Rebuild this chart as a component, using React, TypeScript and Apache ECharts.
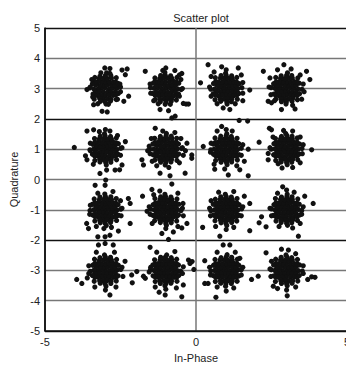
import React, { useEffect, useRef } from "react";
import * as echarts from "echarts";

// Tick layout
const xMin = -5, xMax = 5, xStep = 5;
const yMin = -5, yMax = 5, yStep = 1;

// Received symbols, one array per constellation point (I, Q)
const ptM3P3 = [
  [-3.01,3.02],[-2.87,2.99],[-3.14,3.01],[-2.75,3.02],[-3.25,2.98],[-2.62,3.01],[-3.38,2.99],
  [-3.06,3.11],[-2.94,3.12],[-3.19,3.1],[-2.8,3.11],[-3.32,3.12],[-2.68,3.1],
  [-3.07,2.89],[-2.93,2.88],[-3.2,2.9],[-2.81,2.89],[-3.33,2.88],[-2.67,2.9],
  [-3,3.23],[-2.87,3.22],[-3.13,3.23],[-2.74,3.22],[-3.26,3.23],[-2.65,3.21],[-3.35,3.22],
  [-3.01,2.77],[-2.87,2.78],[-3.14,2.77],[-2.74,2.78],[-3.26,2.77],[-2.66,2.79],[-3.35,2.78],
  [-3.06,3.34],[-2.94,3.33],[-3.2,3.34],[-2.8,3.35],
  [-3.07,2.66],[-2.93,2.66],[-3.19,2.67],[-2.81,2.65],
  [-3,3.43],[-3.01,2.57],
  [-2.58,3.17],[-2.82,3.43],[-3.18,3.41],[-3.43,3.16],[-3.41,2.82],[-3.16,2.58],[-2.83,2.59],[-2.57,2.84],
  [-2.5,3.05],[-2.64,3.36],[-2.96,3.52],[-3.35,3.37],[-3.52,3.02],[-3.37,2.65],[-2.98,2.49],[-2.64,2.64],
  [-2.45,3.61],[-2.28,3.65],[-2.34,3.46],[-2.23,2.75],[-2.39,2.58],[-3.11,2.25],[-2.94,2.23],[-3.39,2.47],[-3.61,2.97],
  [-3.15,3.52],[-2.85,3.5],[-3.45,3.3],[-3.5,3.05],[-2.52,3.15],[-2.5,2.9],[-3.42,2.72],[-2.6,2.65],[-3.25,2.5],[-2.9,2.48],
  [-3.02,3.68],[-2.85,3.66]
];
const ptM1P3 = [
  [-0.99,3.01],[-0.86,3.02],[-1.12,2.99],[-0.73,3.0],[-1.26,3.02],[-0.6,2.99],[-1.39,3.01],
  [-1.05,3.12],[-0.92,3.1],[-1.18,3.11],[-0.79,3.12],[-1.31,3.1],[-0.67,3.12],
  [-1.06,2.9],[-0.93,2.88],[-1.19,2.89],[-0.8,2.9],[-1.32,2.89],[-0.68,2.88],
  [-1.01,3.22],[-0.88,3.23],[-1.14,3.22],[-0.75,3.24],[-1.27,3.22],[-0.65,3.22],[-1.36,3.23],
  [-1,2.78],[-0.86,2.77],[-1.13,2.78],[-0.74,2.76],[-1.26,2.78],[-0.64,2.77],[-1.35,2.77],
  [-1.07,3.34],[-0.94,3.35],[-1.2,3.33],[-0.8,3.34],
  [-1.06,2.66],[-0.93,2.67],[-1.2,2.66],[-0.81,2.66],
  [-1.02,3.44],[-0.99,2.56],
  [-0.57,3.18],[-0.84,3.42],[-1.17,3.43],[-1.42,3.18],[-1.43,2.84],[-1.18,2.57],[-0.82,2.58],[-0.58,2.82],
  [-0.49,2.97],[-0.63,3.37],[-1.03,3.53],[-1.36,3.35],[-1.51,3.03],[-1.35,2.63],[-1.02,2.48],[-0.65,2.62],
  [-1.68,3.57],[-0.33,2.49],[-0.25,2.49],[-1.19,2.31],[-0.91,2.27],[-0.69,2.09],[-0.8,2.03],[-0.47,3.5],[-0.42,2.51],
  [-1.1,3.6],[-0.7,3.6],[-0.5,3.3],[-0.45,3.0],[-1.52,3.15],[-1.5,2.85],[-1.4,2.6],[-0.55,2.75],[-1.25,2.5],[-0.85,2.48],[-1.0,3.68],[-0.55,3.45]
];
const ptP1P3 = [
  [1.01,2.99],[1.14,3.01],[0.88,3.0],[1.27,2.98],[0.75,3.01],[1.39,3.0],[0.62,2.99],
  [0.95,3.11],[1.08,3.12],[0.82,3.1],[1.21,3.11],[0.69,3.12],[1.33,3.1],
  [0.94,2.89],[1.07,2.9],[0.81,2.88],[1.2,2.89],[0.68,2.9],[1.32,2.88],
  [1.0,3.23],[1.13,3.22],[0.87,3.22],[1.26,3.23],[0.74,3.22],[1.35,3.21],[0.65,3.23],
  [0.99,2.78],[1.13,2.77],[0.86,2.78],[1.26,2.77],[0.74,2.76],[1.35,2.78],[0.65,2.78],
  [0.94,3.34],[1.07,3.34],[0.81,3.35],[1.2,3.33],
  [0.93,2.66],[1.06,2.67],[0.8,2.66],[1.19,2.66],
  [1.0,3.44],[1.02,2.56],
  [1.43,3.16],[1.18,3.42],[0.83,3.43],[0.58,3.17],[0.57,2.83],[0.82,2.58],[1.17,2.57],[1.42,2.84],
  [1.52,3.03],[1.35,3.37],[0.98,3.51],[0.64,3.36],[0.49,2.98],[0.63,2.63],[1.03,2.49],[1.37,2.65],
  [0.4,3.79],[0.85,3.72],[1.4,3.68],[0.15,3.19],[1.78,2.95],[0.9,2.36],[1.12,2.31],[1.43,1.95],[1.71,1.93],
  [0.5,3.4],[0.45,3.05],[0.5,2.75],[1.55,3.2],[1.55,2.85],[1.5,3.45],[0.7,2.5],[1.3,2.5],[1.0,3.62],[0.6,3.55],[1.55,2.6]
];
const ptP3P3 = [
  [2.99,3.0],[3.12,3.02],[2.86,2.99],[3.25,3.01],[2.74,3.0],[3.38,2.99],[2.61,3.01],
  [3.05,3.11],[2.93,3.12],[3.19,3.1],[2.8,3.11],[3.32,3.12],[2.68,3.1],
  [3.06,2.89],[2.94,2.88],[3.19,2.9],[2.81,2.89],[3.32,2.88],[2.68,2.9],
  [3.01,3.22],[2.87,3.23],[3.14,3.22],[2.74,3.22],[3.26,3.23],[2.65,3.22],[3.35,3.21],
  [3.0,2.78],[2.87,2.77],[3.13,2.78],[2.74,2.77],[3.26,2.78],[2.65,2.77],[3.35,2.77],
  [3.07,3.34],[2.94,3.33],[3.19,3.35],[2.8,3.34],
  [3.06,2.66],[2.93,2.66],[3.2,2.67],[2.81,2.66],
  [3.0,3.44],[2.99,2.56],
  [3.42,3.18],[3.17,3.43],[2.82,3.42],[2.57,3.16],[2.58,2.82],[2.83,2.57],[3.18,2.58],[3.43,2.83],
  [3.51,2.98],[3.37,3.35],[3.03,3.52],[2.64,3.37],[2.49,3.03],[2.64,2.65],[2.98,2.49],[3.36,2.63],
  [2.23,3.57],[2.91,3.79],[3.66,3.57],[3.77,3.3],[2.39,2.58],[2.5,2.53],[2.83,2.31],[3.28,2.33],
  [2.45,3.35],[2.42,3.05],[2.48,2.8],[3.55,3.15],[3.58,2.9],[3.5,2.65],[3.2,2.45],[2.7,3.62],[3.15,3.65],[3.45,3.45],[2.6,2.6]
];
const ptM3P1 = [
  [-3.0,1.0],[-2.87,1.01],[-3.13,0.99],[-2.74,1.0],[-3.26,1.02],[-2.61,0.99],[-3.39,1.0],
  [-3.06,1.11],[-2.93,1.12],[-3.19,1.1],[-2.8,1.11],[-3.32,1.12],[-2.68,1.11],
  [-3.07,0.89],[-2.94,0.9],[-3.2,0.88],[-2.81,0.89],[-3.33,0.9],[-2.67,0.89],
  [-3.0,1.22],[-2.87,1.23],[-3.13,1.22],[-2.74,1.23],[-3.26,1.22],[-2.65,1.21],[-3.35,1.23],
  [-3.01,0.78],[-2.87,0.77],[-3.13,0.78],[-2.74,0.77],[-3.26,0.78],[-2.65,0.78],[-3.35,0.77],
  [-3.06,1.34],[-2.93,1.33],[-3.2,1.34],[-2.8,1.34],
  [-3.07,0.66],[-2.94,0.66],[-3.19,0.67],[-2.81,0.66],
  [-3.01,1.44],[-2.99,0.56],
  [-2.57,1.18],[-2.83,1.42],[-3.17,1.43],[-3.42,1.16],[-3.43,0.83],[-3.18,0.58],[-2.82,0.57],[-2.58,0.83],
  [-2.49,1.03],[-2.64,1.37],[-3.03,1.51],[-3.36,1.35],[-3.51,0.98],[-3.35,0.63],[-2.97,0.48],[-2.63,0.65],
  [-4.03,1.06],[-3.61,1.6],[-3.39,1.64],[-3.66,0.78],[-3.61,0.65],[-3.18,0.2],[-2.96,0.31],[-2.68,0.31],[-2.45,0.48],[-2.53,0.32],[-2.34,1.25],
  [-3.5,1.2],[-3.5,0.95],[-2.45,1.05],[-2.5,0.8],[-3.2,1.58],[-2.85,1.6],[-3.4,0.5],[-2.6,1.45],[-3.0,1.65]
];
const ptM1P1 = [
  [-1.01,1.0],[-0.88,0.99],[-1.14,1.01],[-0.75,1.0],[-1.27,0.99],[-0.62,1.01],[-1.4,1.0],
  [-1.05,1.11],[-0.92,1.12],[-1.18,1.11],[-0.79,1.1],[-1.31,1.12],[-0.67,1.11],
  [-1.06,0.89],[-0.93,0.88],[-1.19,0.9],[-0.8,0.89],[-1.32,0.88],[-0.68,0.9],
  [-1.01,1.23],[-0.87,1.22],[-1.14,1.23],[-0.75,1.22],[-1.27,1.22],[-0.65,1.23],[-1.36,1.22],
  [-1.0,0.77],[-0.87,0.78],[-1.13,0.77],[-0.74,0.78],[-1.26,0.77],[-0.65,0.77],[-1.35,0.78],
  [-1.07,1.34],[-0.94,1.34],[-1.2,1.33],[-0.8,1.35],
  [-1.06,0.66],[-0.93,0.67],[-1.2,0.66],[-0.81,0.66],
  [-0.99,1.44],[-1.0,0.56],
  [-0.58,1.17],[-0.82,1.43],[-1.18,1.42],[-1.43,1.17],[-1.42,0.82],[-1.17,0.57],[-0.83,0.58],[-0.57,0.84],
  [-0.48,1.02],[-0.64,1.36],[-0.98,1.52],[-1.37,1.36],[-1.52,1.0],[-1.36,0.64],[-1.02,0.48],[-0.63,0.63],
  [-1.79,0.65],[-1.74,0.48],[-1.35,1.69],[-0.14,0.81],[-0.14,0.7],[-0.36,0.21],[-0.86,0.12],[-1.19,0.21],[-1.48,1.35],[-0.3,1.2],
  [-1.55,1.1],[-1.52,0.85],[-0.45,1.05],[-0.42,0.8],[-1.45,0.6],[-0.55,0.55],[-0.7,1.55],[-1.1,1.6],[-0.9,0.4],[-1.3,0.45],[-0.5,1.35],[-1.6,0.95],[-0.35,0.95]
];
const ptP1P1 = [
  [0.99,1.0],[1.12,1.01],[0.86,0.99],[1.25,1.0],[0.73,1.01],[1.38,0.99],[0.6,1.0],
  [0.95,1.11],[1.08,1.12],[0.82,1.1],[1.21,1.11],[0.69,1.12],[1.33,1.1],
  [0.94,0.89],[1.07,0.9],[0.81,0.88],[1.2,0.89],[0.68,0.9],[1.32,0.89],
  [0.99,1.22],[1.13,1.23],[0.86,1.22],[1.26,1.22],[0.73,1.23],[1.35,1.22],[0.64,1.22],
  [1.0,0.78],[1.13,0.77],[0.87,0.78],[1.26,0.78],[0.74,0.77],[1.35,0.77],[0.65,0.78],
  [0.94,1.33],[1.07,1.34],[0.8,1.34],[1.2,1.34],
  [0.93,0.66],[1.07,0.66],[0.81,0.67],[1.19,0.66],
  [1.0,1.44],[1.01,0.56],
  [1.42,1.18],[1.17,1.42],[0.82,1.43],[0.57,1.17],[0.58,0.83],[0.83,0.57],[1.18,0.58],[1.43,0.82],
  [1.5,1.03],[1.36,1.36],[1.02,1.51],[0.63,1.37],[0.49,0.98],[0.65,0.63],[1.03,0.49],[1.37,0.64],
  [0.85,1.75],[0.24,1.09],[1.73,1.0],[0.62,0.34],[1.07,0.15],[1.73,0.12],[1.45,0.32],
  [0.5,1.2],[0.48,0.9],[1.55,1.15],[1.5,0.8],[0.7,1.6],[1.2,1.6],[0.6,0.5],[1.35,0.45],[1.0,1.65],[0.95,0.35],[1.6,0.6]
];
const ptP3P1 = [
  [3.0,1.01],[3.13,0.99],[2.87,1.0],[3.26,1.01],[2.74,0.99],[3.39,1.0],[2.61,1.01],
  [3.06,1.11],[2.93,1.1],[3.19,1.12],[2.8,1.11],[3.32,1.1],[2.68,1.12],
  [3.05,0.89],[2.92,0.9],[3.18,0.89],[2.79,0.88],[3.31,0.9],[2.67,0.89],
  [3.0,1.23],[2.87,1.22],[3.13,1.22],[2.74,1.23],[3.26,1.22],[2.65,1.22],[3.35,1.23],
  [2.99,0.78],[2.86,0.77],[3.13,0.78],[2.73,0.78],[3.26,0.77],[2.64,0.77],[3.35,0.78],
  [3.06,1.34],[2.93,1.33],[3.19,1.34],[2.8,1.34],
  [3.07,0.66],[2.94,0.67],[3.2,0.66],[2.81,0.66],
  [3.01,1.45],[3.0,0.56],
  [3.43,1.17],[3.18,1.43],[2.83,1.42],[2.58,1.18],[2.57,0.82],[2.82,0.58],[3.17,0.57],[3.42,0.84],
  [3.51,1.02],[3.35,1.37],[2.97,1.52],[2.63,1.35],[2.49,1.0],[2.64,0.63],[3.02,0.49],[3.37,0.65],
  [2.09,1.23],[3.83,0.98],[2.43,1.69],[2.5,1.64],[2.39,0.86],[2.39,0.65],[2.72,0.52],
  [3.55,1.15],[3.52,0.85],[2.45,1.05],[3.45,0.55],[3.2,0.4],[2.9,1.62],[3.2,1.6],[3.45,1.4],[2.85,0.38],[2.55,1.4]
];
const ptM3M1 = [
  [-3.0,-1.0],[-2.87,-0.99],[-3.13,-1.01],[-2.74,-1.0],[-3.26,-0.99],[-2.61,-1.01],[-3.39,-1.0],
  [-3.06,-0.89],[-2.93,-0.88],[-3.19,-0.9],[-2.8,-0.89],[-3.32,-0.88],[-2.68,-0.9],
  [-3.07,-1.11],[-2.94,-1.12],[-3.2,-1.1],[-2.81,-1.11],[-3.33,-1.12],[-2.67,-1.1],
  [-3.0,-0.78],[-2.87,-0.77],[-3.13,-0.78],[-2.74,-0.77],[-3.26,-0.78],[-2.65,-0.78],[-3.35,-0.77],
  [-3.01,-1.22],[-2.87,-1.23],[-3.13,-1.22],[-2.74,-1.23],[-3.26,-1.22],[-2.65,-1.23],[-3.35,-1.22],
  [-3.06,-0.66],[-2.93,-0.66],[-3.2,-0.67],[-2.8,-0.66],
  [-3.07,-1.34],[-2.94,-1.33],[-3.19,-1.34],[-2.81,-1.35],
  [-3.0,-0.56],[-3.01,-1.44],
  [-2.58,-0.83],[-2.82,-0.57],[-3.18,-0.58],[-3.43,-0.82],[-3.42,-1.17],[-3.17,-1.43],[-2.83,-1.42],[-2.57,-1.18],
  [-2.49,-0.98],[-2.64,-0.63],[-3.02,-0.48],[-3.37,-0.64],[-3.51,-1.02],[-3.35,-1.37],[-2.97,-1.52],[-2.63,-1.35],
  [-3.34,-0.19],[-3.01,-0.19],[-2.99,-0.02],[-2.24,-0.63],[-2.18,-0.79],[-2.18,-1.45],[-3.62,-1.45],[-3.56,-1.62],[-2.57,-1.7],[-3.25,-1.89],[-3.01,-1.89],[-2.85,-1.84],
  [-3.5,-0.85],[-3.52,-1.15],[-2.45,-0.95],[-2.48,-1.2],[-3.25,-0.45],[-2.75,-0.4],[-3.3,-1.55],[-2.8,-1.58],[-3.05,-1.62],[-2.5,-0.7]
];
const ptM1M1 = [
  [-1.0,-1.0],[-0.87,-1.01],[-1.13,-0.99],[-0.74,-1.0],[-1.26,-1.01],[-0.61,-0.99],[-1.39,-1.0],
  [-1.06,-0.89],[-0.93,-0.9],[-1.19,-0.88],[-0.8,-0.89],[-1.32,-0.9],[-0.68,-0.88],
  [-1.05,-1.11],[-0.92,-1.1],[-1.18,-1.12],[-0.79,-1.11],[-1.31,-1.1],[-0.67,-1.12],
  [-1.0,-0.77],[-0.87,-0.78],[-1.13,-0.77],[-0.74,-0.78],[-1.26,-0.77],[-0.65,-0.78],[-1.35,-0.78],
  [-0.99,-1.23],[-0.86,-1.22],[-1.13,-1.23],[-0.73,-1.22],[-1.26,-1.23],[-0.64,-1.22],[-1.35,-1.23],
  [-1.06,-0.66],[-0.93,-0.67],[-1.19,-0.66],[-0.8,-0.66],
  [-1.06,-1.34],[-0.93,-1.34],[-1.2,-1.33],[-0.81,-1.34],
  [-1.01,-0.56],[-1.0,-1.45],
  [-0.57,-0.82],[-0.83,-0.58],[-1.17,-0.57],[-1.42,-0.83],[-1.43,-1.18],[-1.18,-1.42],[-0.82,-1.43],[-0.58,-1.17],
  [-0.5,-1.03],[-0.63,-0.64],[-1.03,-0.49],[-1.36,-0.63],[-1.5,-0.98],[-1.37,-1.36],[-0.98,-1.51],[-0.64,-1.37],
  [-1.46,-0.33],[-0.8,-0.15],[-1.77,-0.55],[-0.3,-1.45],[-0.91,-1.98],[-1.13,-1.78],[-0.75,-1.73],[-0.43,-0.79],[-0.47,-1.6],
  [-1.55,-0.9],[-1.52,-1.15],[-0.45,-0.95],[-0.42,-1.2],[-1.4,-0.5],[-0.6,-0.45],[-1.45,-1.45],[-0.6,-1.55],[-1.0,-1.62],[-1.2,-0.38],[-1.62,-1.05]
];
const ptP1M1 = [
  [1.0,-1.0],[1.13,-0.99],[0.87,-1.01],[1.26,-1.0],[0.74,-0.99],[1.39,-1.01],[0.61,-1.0],
  [0.94,-0.89],[1.07,-0.88],[0.81,-0.9],[1.2,-0.89],[0.68,-0.88],[1.32,-0.9],
  [0.95,-1.11],[1.08,-1.12],[0.82,-1.1],[1.21,-1.11],[0.69,-1.12],[1.33,-1.1],
  [1.0,-0.78],[1.13,-0.77],[0.87,-0.78],[1.26,-0.77],[0.74,-0.78],[1.35,-0.77],[0.65,-0.78],
  [1.01,-1.22],[1.14,-1.23],[0.87,-1.22],[1.26,-1.23],[0.74,-1.22],[1.35,-1.22],[0.65,-1.23],
  [0.94,-0.66],[1.07,-0.67],[0.8,-0.66],[1.2,-0.66],
  [0.94,-1.34],[1.07,-1.33],[0.81,-1.34],[1.2,-1.35],
  [1.0,-0.56],[0.99,-1.44],
  [1.43,-0.83],[1.17,-0.58],[0.82,-0.57],[0.57,-0.82],[0.58,-1.17],[0.83,-1.43],[1.18,-1.42],[1.42,-1.18],
  [1.51,-0.97],[1.36,-0.63],[0.97,-0.49],[0.64,-0.65],[0.49,-1.03],[0.63,-1.36],[1.02,-1.52],[1.35,-1.37],
  [0.22,-1.58],[0.79,-1.87],[1.78,-1.69],[1.78,-0.79],
  [0.45,-0.95],[0.48,-1.2],[1.55,-0.9],[1.5,-1.2],[0.75,-0.42],[1.25,-0.4],[0.65,-1.55],[1.25,-1.58],[1.0,-1.65],[1.6,-0.55],[0.5,-0.7]
];
const ptP3M1 = [
  [3.0,-1.0],[3.13,-1.01],[2.87,-0.99],[3.26,-1.0],[2.74,-1.01],[3.39,-0.99],[2.61,-1.0],
  [3.06,-0.89],[2.93,-0.88],[3.19,-0.9],[2.8,-0.89],[3.32,-0.88],[2.68,-0.9],
  [3.05,-1.11],[2.92,-1.12],[3.18,-1.1],[2.79,-1.11],[3.31,-1.12],[2.67,-1.1],
  [3.0,-0.77],[2.87,-0.78],[3.13,-0.77],[2.74,-0.78],[3.26,-0.78],[2.65,-0.77],[3.35,-0.78],
  [2.99,-1.22],[2.86,-1.23],[3.13,-1.22],[2.73,-1.23],[3.26,-1.22],[2.64,-1.22],[3.35,-1.23],
  [3.06,-0.66],[2.93,-0.67],[3.19,-0.66],[2.8,-0.66],
  [3.07,-1.34],[2.94,-1.33],[3.2,-1.34],[2.81,-1.34],
  [3.01,-0.56],[3.0,-1.44],
  [3.42,-0.82],[3.18,-0.57],[2.83,-0.58],[2.58,-0.83],[2.57,-1.18],[2.82,-1.42],[3.17,-1.43],[3.43,-1.17],
  [3.5,-1.02],[3.37,-0.64],[3.02,-0.49],[2.63,-0.63],[2.5,-0.97],[2.65,-1.37],[3.03,-1.51],[3.36,-1.35],
  [2.87,-0.24],[3.88,-0.79],[2.17,-1.23],[2.09,-1.43],[2.32,-1.56],[3.39,-1.87],[3.6,-0.55],
  [2.45,-0.95],[2.5,-1.2],[3.55,-0.9],[3.5,-1.15],[2.7,-0.45],[3.25,-0.42],[2.75,-1.55],[3.2,-1.6],[3.45,-1.45],[3.0,-0.35]
];
const ptM3M3 = [
  [-3.0,-3.0],[-2.87,-3.01],[-3.13,-2.99],[-2.74,-3.0],[-3.26,-3.01],[-2.61,-2.99],[-3.39,-3.0],
  [-3.06,-2.89],[-2.93,-2.88],[-3.19,-2.9],[-2.8,-2.89],[-3.32,-2.88],[-2.68,-2.9],
  [-3.07,-3.11],[-2.94,-3.12],[-3.2,-3.1],[-2.81,-3.11],[-3.33,-3.12],[-2.67,-3.1],
  [-3.0,-2.78],[-2.87,-2.77],[-3.13,-2.78],[-2.74,-2.77],[-3.26,-2.78],[-2.65,-2.78],[-3.35,-2.77],
  [-3.01,-3.22],[-2.87,-3.23],[-3.13,-3.22],[-2.74,-3.23],[-3.26,-3.22],[-2.65,-3.23],[-3.35,-3.22],
  [-3.06,-2.66],[-2.93,-2.66],[-3.2,-2.67],[-2.8,-2.66],
  [-3.07,-3.34],[-2.94,-3.33],[-3.19,-3.34],[-2.81,-3.35],
  [-3.0,-2.56],[-3.01,-3.44],
  [-2.57,-2.83],[-2.83,-2.57],[-3.18,-2.58],[-3.42,-2.83],[-3.43,-3.17],[-3.17,-3.42],[-2.82,-3.43],[-2.58,-3.18],
  [-2.49,-2.97],[-2.63,-2.64],[-3.03,-2.49],[-3.36,-2.63],[-3.5,-3.03],[-3.37,-3.36],[-2.98,-3.52],[-2.64,-3.35],
  [-3.23,-2.16],[-3.01,-2.11],[-2.74,-2.16],[-3.95,-3.3],[-3.78,-3.43],[-1.96,-3.04],[-2.13,-3.15],[-2.11,-3.41],[-2.85,-3.81],
  [-3.55,-2.85],[-3.55,-3.1],[-2.45,-2.9],[-2.42,-3.2],[-3.3,-2.4],[-2.7,-2.4],[-3.35,-3.55],[-2.65,-3.55],[-3.0,-3.65],[-3.6,-3.25],[-2.35,-2.7]
];
const ptM1M3 = [
  [-1.0,-3.0],[-0.87,-2.99],[-1.13,-3.01],[-0.74,-3.0],[-1.26,-2.99],[-0.61,-3.01],[-1.39,-3.0],
  [-1.06,-2.89],[-0.93,-2.88],[-1.19,-2.9],[-0.8,-2.89],[-1.32,-2.88],[-0.68,-2.9],
  [-1.05,-3.11],[-0.92,-3.12],[-1.18,-3.1],[-0.79,-3.11],[-1.31,-3.12],[-0.67,-3.1],
  [-1.0,-2.78],[-0.87,-2.77],[-1.13,-2.78],[-0.74,-2.77],[-1.26,-2.78],[-0.65,-2.77],[-1.35,-2.78],
  [-0.99,-3.22],[-0.86,-3.23],[-1.13,-3.22],[-0.73,-3.23],[-1.26,-3.22],[-0.64,-3.23],[-1.35,-3.22],
  [-1.06,-2.66],[-0.93,-2.67],[-1.19,-2.66],[-0.8,-2.66],
  [-1.06,-3.34],[-0.93,-3.33],[-1.2,-3.34],[-0.81,-3.35],
  [-1.01,-2.56],[-1.0,-3.44],
  [-0.58,-2.82],[-0.82,-2.58],[-1.17,-2.57],[-1.43,-2.82],[-1.42,-3.18],[-1.18,-3.43],[-0.83,-3.42],[-0.57,-3.17],
  [-0.51,-3.02],[-0.64,-2.63],[-0.97,-2.49],[-1.37,-2.65],[-1.51,-2.98],[-1.35,-3.37],[-1.03,-3.51],[-0.63,-3.36],
  [-1.52,-2.24],[-0.47,-3.87],[-1.02,-3.81],[-0.25,-2.66],[-0.2,-2.77],[-0.07,-2.97],[-1.74,-3.19],[-1.68,-3.26],[-0.42,-3.48],[-0.13,-2.71],
  [-1.5,-2.9],[-1.55,-3.05],[-0.45,-3.1],[-0.42,-2.88],[-1.3,-2.4],[-0.7,-2.38],[-1.35,-3.55],[-0.65,-3.58],[-1.0,-3.62],[-1.22,-3.72]
];
const ptP1M3 = [
  [1.0,-3.0],[1.13,-3.01],[0.87,-2.99],[1.26,-3.0],[0.74,-3.01],[1.39,-2.99],[0.61,-3.0],
  [0.94,-2.89],[1.07,-2.88],[0.81,-2.9],[1.2,-2.89],[0.68,-2.88],[1.32,-2.9],
  [0.95,-3.11],[1.08,-3.12],[0.82,-3.1],[1.21,-3.11],[0.69,-3.12],[1.33,-3.1],
  [1.0,-2.78],[1.13,-2.77],[0.87,-2.78],[1.26,-2.77],[0.74,-2.78],[1.35,-2.77],[0.65,-2.78],
  [1.01,-3.22],[1.14,-3.23],[0.87,-3.22],[1.26,-3.23],[0.74,-3.22],[1.35,-3.22],[0.65,-3.23],
  [0.94,-2.66],[1.07,-2.67],[0.8,-2.66],[1.2,-2.66],
  [0.94,-3.34],[1.07,-3.33],[0.81,-3.34],[1.2,-3.35],
  [1.0,-2.56],[0.99,-3.44],
  [1.42,-2.83],[1.18,-2.57],[0.83,-2.58],[0.58,-2.83],[0.57,-3.17],[0.82,-3.42],[1.17,-3.43],[1.43,-3.18],
  [1.5,-2.98],[1.37,-2.63],[1.03,-2.48],[0.63,-2.64],[0.49,-3.02],[0.64,-3.37],[0.98,-3.52],[1.36,-3.36],
  [0.29,-2.68],[0.29,-3.43],[0.4,-3.43],[0.66,-3.89],[1.84,-3.3],[2.06,-3.19],[0.9,-2.16],[1.12,-2.16],
  [0.45,-2.9],[0.48,-3.15],[1.55,-2.9],[1.5,-3.15],[0.7,-2.4],[1.3,-2.4],[0.7,-3.55],[1.25,-3.58],[1.0,-3.68],[1.45,-2.6]
];
const ptP3M3 = [
  [3.0,-3.0],[3.13,-2.99],[2.87,-3.01],[3.26,-3.0],[2.74,-2.99],[3.39,-3.01],[2.61,-3.0],
  [3.06,-2.89],[2.93,-2.88],[3.19,-2.9],[2.8,-2.89],[3.32,-2.88],[2.68,-2.9],
  [3.05,-3.11],[2.92,-3.12],[3.18,-3.1],[2.79,-3.11],[3.31,-3.12],[2.67,-3.1],
  [3.0,-2.77],[2.87,-2.78],[3.13,-2.77],[2.74,-2.78],[3.26,-2.78],[2.65,-2.77],[3.35,-2.78],
  [2.99,-3.22],[2.86,-3.23],[3.13,-3.22],[2.73,-3.23],[3.26,-3.22],[2.64,-3.22],[3.35,-3.23],
  [3.06,-2.66],[2.93,-2.67],[3.19,-2.66],[2.8,-2.66],
  [3.07,-3.34],[2.94,-3.33],[3.2,-3.34],[2.81,-3.34],
  [3.01,-2.56],[3.0,-3.44],
  [3.43,-2.82],[3.17,-2.58],[2.82,-2.57],[2.57,-2.82],[2.58,-3.18],[2.83,-3.43],[3.18,-3.42],[3.42,-3.17],
  [3.52,-3.02],[3.36,-2.64],[2.98,-2.49],[2.64,-2.63],[2.49,-2.98],[2.63,-3.37],[3.02,-3.51],[3.37,-3.35],
  [2.32,-2.42],[2.83,-2.3],[3.06,-2.33],[3.94,-3.23],[3.83,-3.21],[3.02,-3.84],[2.56,-3.52],[3.7,-3.3],
  [2.45,-2.95],[2.48,-3.2],[3.55,-2.85],[3.55,-3.1],[3.3,-2.45],[2.7,-3.6],[3.3,-3.55],[3.0,-3.65],[2.5,-2.7]
];

const clusters = [
  ptM3P3, ptM1P3, ptP1P3, ptP3P3,
  ptM3P1, ptM1P1, ptP1P1, ptP3P1,
  ptM3M1, ptM1M1, ptP1M1, ptP3M1,
  ptM3M3, ptM1M3, ptP1M3, ptP3M3,
];

const GRAY = "#777777";
const DARK = "#111111";

export default function App() {
  const ref = useRef<HTMLDivElement>(null);
  useEffect(() => {
    if (!ref.current) return;
    const chart = echarts.init(ref.current, null, { renderer: "svg" });
    const font = "'Liberation Sans', Arial, sans-serif";
    const ySplitColors = [DARK, GRAY, GRAY, DARK, GRAY, GRAY, GRAY, DARK, GRAY, GRAY, DARK];
    chart.setOption({
      animation: false,
      backgroundColor: "#ffffff",
      title: {
        text: "Scatter plot",
        left: 196,
        top: 7,
        textAlign: "center",
        textStyle: { fontFamily: font, fontSize: 11, fontWeight: "normal", color: "#222" },
      },
      grid: {
        left: 45,
        top: 28,
        width: 302,
        height: 303,
        containLabel: false,
        outerBoundsMode: "none",
      },
      xAxis: {
        type: "value",
        min: xMin,
        max: xMax,
        interval: xStep,
        name: "In-Phase",
        nameLocation: "middle",
        nameGap: 21,
        nameTextStyle: { fontFamily: font, fontSize: 11, color: "#222" },
        axisLine: { show: true, onZero: false, lineStyle: { color: DARK, width: 1.5 } },
        axisTick: { show: false },
        axisLabel: { fontFamily: font, fontSize: 11, color: "#222", margin: 5, hideOverlap: false },
        splitLine: { show: true, lineStyle: { color: [DARK, GRAY, DARK], width: 1.5 } },
      },
      yAxis: {
        type: "value",
        min: yMin,
        max: yMax,
        interval: yStep,
        name: "Quadrature",
        nameLocation: "middle",
        nameGap: 22,
        nameTextStyle: { fontFamily: font, fontSize: 11, color: "#222" },
        axisLine: { show: true, onZero: false, lineStyle: { color: DARK, width: 1.5 } },
        axisTick: { show: false },
        axisLabel: { fontFamily: font, fontSize: 11, color: "#222", margin: 5 },
        splitLine: { show: true, lineStyle: { color: ySplitColors, width: 1.3 } },
      },
      series: [
        {
          type: "scatter",
          data: clusters.flat(),
          symbol: "circle",
          symbolSize: 5.2,
          itemStyle: { color: DARK, opacity: 1 },
          silent: true,
        },
      ],
    });
    return () => chart.dispose();
  }, []);
  return (
    <div
      ref={ref}
      style={{ position: "fixed", left: 0, top: 0, width: 346, height: 366, background: "#fff" }}
    />
  );
}
